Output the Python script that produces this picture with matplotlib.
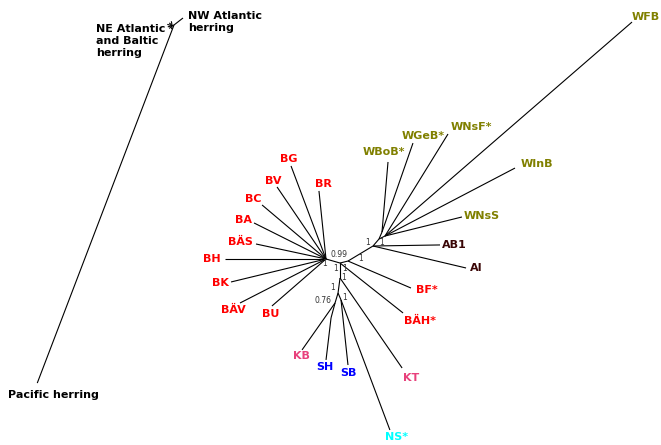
import math
import matplotlib
matplotlib.use("Agg")
import matplotlib.pyplot as plt

# ---------------------------------------------------------------------------
# Unrooted herring population tree.
# Each branch: child, parent, branch length, branch direction (degrees)
# ---------------------------------------------------------------------------
children = ["B", "E", "C", "D", "F", "G", "I", "H", "W", "W1", "W2",
            "BG", "BV", "BC", "BA", "BÄS", "BH", "BK", "BÄV", "BU", "BR",
            "BF*", "BÄH*", "KT", "KB", "SH", "SB", "NS*", "AB1", "AI",
            "WBoB*", "WGeB*", "WNsF*", "WFB", "WInB", "WNsS"]
parents = ["A", "B", "E", "B", "D", "F", "G", "F", "C", "W", "W",
           "A", "A", "A", "A", "A", "A", "A", "A", "A", "A",
           "E", "B", "D", "G", "I", "H", "H", "C", "C",
           "W1", "W1", "W2", "W2", "W2", "W2"]
lengths = [14.6, 8.2, 29.2, 15.0, 15.1, 10.4, 15.5, 7.6, 9.2, 7.6, 6.7,
           99.4, 87.1, 83.7, 80.5, 71.6, 101.0, 97.7, 96.6, 71.6, 68.4,
           68.5, 80.4, 109.3, 57.4, 42.3, 65.4, 138.9, 67.0, 95.6,
           70.3, 94.2, 119.9, 326.8, 146.7, 79.3]
angles = [-16.0, 14.0, 31.0, -90.0, -97.6, -106.7, -105.0, -66.8, 49.4, 66.8, 26.6,
          110.6, 124.2, 139.8, 153.4, 167.9, 180.0, 193.6, 207.1, 221.0, 95.9,
          -23.2, -38.4, -55.4, -125.1, -96.8, -83.9, -69.4, 0.9, -13.3,
          85.1, 70.8, 58.3, 40.9, 27.6, 13.9]

# Tip label colours by population group
tip_names = ["BG", "BV", "BC", "BA", "BÄS", "BH", "BK", "BÄV", "BU", "BR",
             "BF*", "BÄH*", "KT", "KB", "SH", "SB", "NS*", "AB1", "AI",
             "WBoB*", "WGeB*", "WNsF*", "WFB", "WInB", "WNsS"]
RED, PINK, BLUE, CYAN = "#ff0000", "#e8417c", "#0000ff", "#00ffff"
OLIVE, MAROON = "#808000", "#3a0606"
tip_colors = [RED] * 12 + [PINK, PINK, BLUE, BLUE, CYAN, MAROON, MAROON] + [OLIVE] * 6

# Posterior support values at internal nodes
support_nodes = ["B", "A", "B", "B", "E", "C", "W", "D", "F", "G", "H"]
support_values = ["0.99", "1", "1", "1", "1", "1", "1", "1", "1", "0.76", "1"]

# Overview tree: Pacific vs. Atlantic herring
ov_children = ["NW", "Pacific", "NE", "ne1", "ne2", "ne3", "ne4", "ne5", "ne6"]
ov_parents = ["N", "N", "N", "NE", "NE", "NE", "NE", "NE", "NE"]
ov_lengths = [11.4, 383.3, 2.0, 4.5, 4.0, 5.0, 4.5, 4.0, 3.5]
ov_angles = [37.9, 249.1, 200.0, 100.0, 135.0, 165.0, 195.0, 225.0, 260.0]

# ---------------------------------------------------------------------------
# Layout (figure pixel units, y up)
# ---------------------------------------------------------------------------
W_PX, H_PX = 661, 445
ROOT = (326.0, H_PX - 259.0)
OV_ROOT = (174.0, H_PX - 25.0)

# label offsets from tip (dx, dy) in pixels, screen orientation (dy down)
tip_offsets = {
    "BG": (-2, -7), "BV": (-4, -6), "BC": (-9, -6), "BA": (-11, -3),
    "BÄS": (-16, -2), "BH": (-13, 0), "BK": (-11, 1), "BÄV": (-7, 7),
    "BU": (-1, 8), "BR": (4, -7), "BF*": (16, 2), "BÄH*": (17, 8),
    "KT": (9, 10), "KB": (-1, 6), "SH": (-1, 7), "SB": (0, 8),
    "NS*": (7, 7), "AB1": (14, 0), "AI": (10, 0), "WBoB*": (-4, -10),
    "WGeB*": (10, -7), "WNsF*": (23, -7), "WFB": (14, -5),
    "WInB": (22, -4), "WNsS": (20, -1),
}
support_offsets = [(-1, -9), (-1, 5), (-4, 5), (5, 5), (13, -3), (-5, -4),
                   (3, 3), (4, -1), (-5, -5), (-12, -2), (4, -2)]


def layout(root_name, root_xy, kids, pars, lens, angs):
    pos = {root_name: root_xy}
    segs = []
    for c, p, L, a in zip(kids, pars, lens, angs):
        px, py = pos[p]
        t = math.radians(a)
        pos[c] = (px + L * math.cos(t), py + L * math.sin(t))
        segs.append((pos[p], pos[c]))
    return pos, segs


fig = plt.figure(figsize=(W_PX / 100, H_PX / 100), dpi=100)
ax = fig.add_axes([0, 0, 1, 1])
ax.set_xlim(0, W_PX)
ax.set_ylim(0, H_PX)
ax.axis("off")

pos, segs = layout("A", ROOT, children, parents, lengths, angles)
for (x0, y0), (x1, y1) in segs:
    ax.plot([x0, x1], [y0, y1], color="black", lw=0.8, solid_capstyle="butt")

for name, col in zip(tip_names, tip_colors):
    x, y = pos[name]
    dx, dy = tip_offsets[name]
    ax.text(x + dx, y - dy, name, color=col, fontsize=8, fontweight="bold",
            family="DejaVu Sans", ha="center", va="center")

for node, val, (dx, dy) in zip(support_nodes, support_values, support_offsets):
    x, y = pos[node]
    ax.text(x + dx, y - dy, val, color="#333333", fontsize=5.5,
            family="DejaVu Sans", ha="center", va="center")

ov_pos, ov_segs = layout("N", OV_ROOT, ov_children, ov_parents, ov_lengths, ov_angles)
for (x0, y0), (x1, y1) in ov_segs:
    ax.plot([x0, x1], [y0, y1], color="black", lw=0.8, solid_capstyle="butt")

ax.text(188, H_PX - 22, "NW Atlantic\nherring", fontsize=8, fontweight="bold",
        ha="left", va="center", linespacing=1.25)
ax.text(96, H_PX - 41, "NE Atlantic\nand Baltic\nherring", fontsize=8,
        fontweight="bold", ha="left", va="center", linespacing=1.2)
ax.text(8, H_PX - 395, "Pacific herring", fontsize=8, fontweight="bold",
        ha="left", va="center")

fig.savefig("out.png", dpi=100)
